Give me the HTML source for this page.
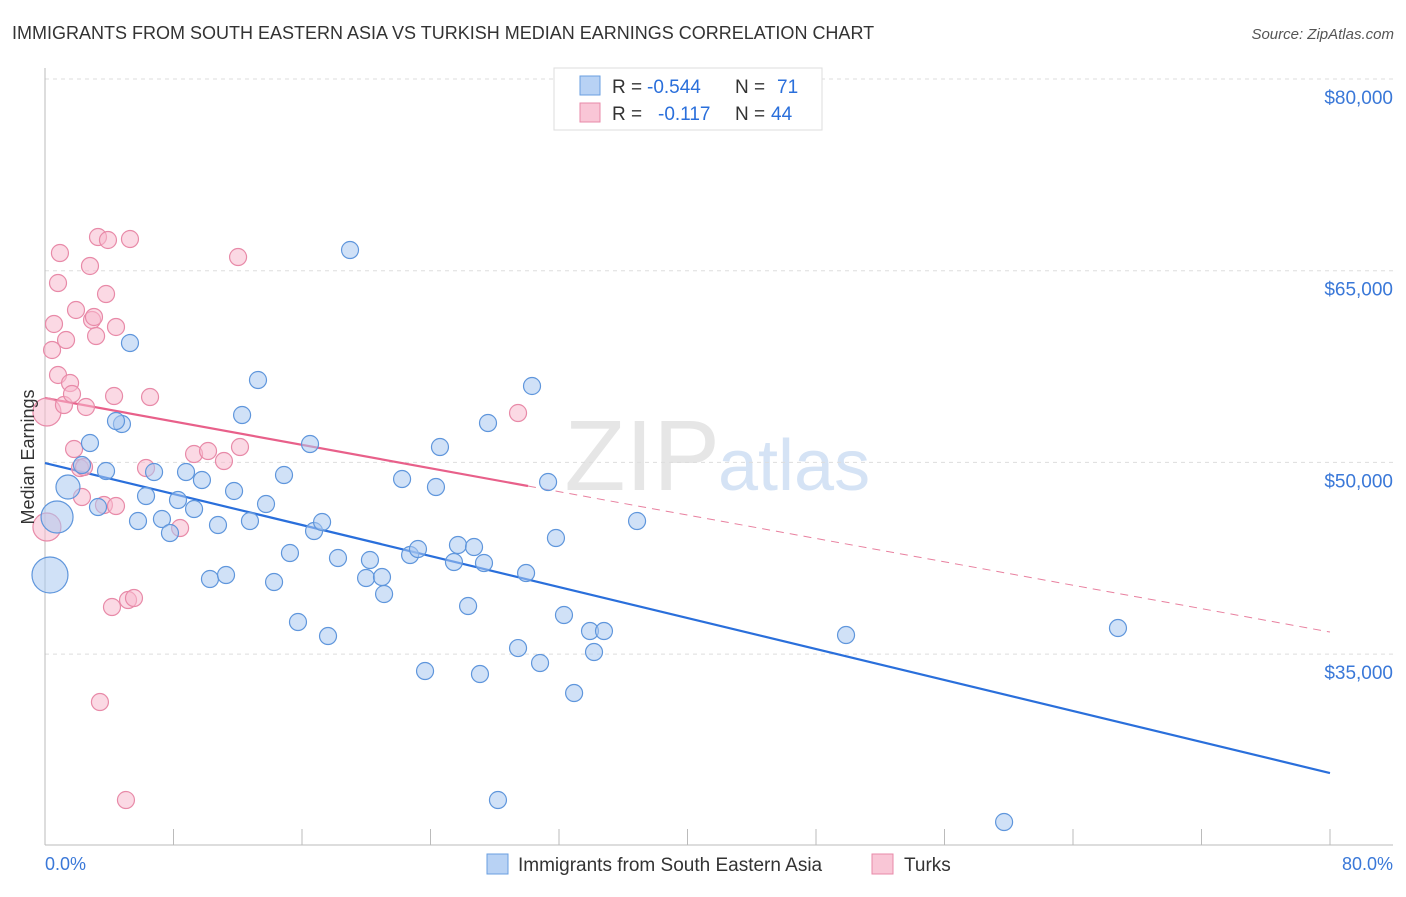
<!DOCTYPE html>
<html><head><meta charset="utf-8"><style>
body{margin:0;background:#fff;font-family:"Liberation Sans",sans-serif;}
svg text{font-family:"Liberation Sans",sans-serif;}
</style></head><body>
<svg id="chart" width="1406" height="892">
<text x="12" y="39" font-size="18" fill="#333">IMMIGRANTS FROM SOUTH EASTERN ASIA VS TURKISH MEDIAN EARNINGS CORRELATION CHART</text>
<text x="1394" y="39" font-size="15" fill="#555" font-style="italic" text-anchor="end">Source: ZipAtlas.com</text>
<text x="720" y="490" font-size="100" fill="#e6e6e6" text-anchor="end" font-family="Liberation Serif">ZIP</text>
<text x="718" y="490" font-size="72" fill="#d5e3f5">atlas</text>
<g id="grid"></g><g id="axes"></g><g id="lines"></g><g id="pts"></g>
<text transform="translate(34,457) rotate(-90)" font-size="18" fill="#333" text-anchor="middle">Median Earnings</text>
<text x="45" y="870" font-size="18" fill="#3a78d8">0.0%</text>
<text x="1393" y="870" font-size="18" fill="#3a78d8" text-anchor="end">80.0%</text>
<g>
<rect x="554" y="68" width="268" height="62" fill="#fff" stroke="#ddd"/>
<rect x="580" y="76" width="20" height="19" fill="#b8d2f4" stroke="#6a9fe0"/>
<rect x="580" y="103" width="20" height="19" fill="#f9c6d6" stroke="#e88aa8"/>
<text x="612" y="93" font-size="19" fill="#333">R =</text>
<text x="647" y="93" font-size="19" fill="#2a6fdb">-0.544</text>
<text x="735" y="93" font-size="19" fill="#333">N =</text>
<text x="777" y="93" font-size="19" fill="#2a6fdb">71</text>
<text x="612" y="120" font-size="19" fill="#333">R =</text>
<text x="658" y="120" font-size="19" fill="#2a6fdb">-0.117</text>
<text x="735" y="120" font-size="19" fill="#333">N =</text>
<text x="771" y="120" font-size="19" fill="#2a6fdb">44</text>
</g>
<g>
<rect x="487" y="854" width="21" height="20" fill="#b8d2f4" stroke="#6a9fe0"/>
<text x="518" y="871" font-size="19" fill="#333">Immigrants from South Eastern Asia</text>
<rect x="872" y="854" width="21" height="20" fill="#f9c6d6" stroke="#e88aa8"/>
<text x="904" y="871" font-size="19" fill="#333">Turks</text>
</g>
</svg>
<script>
const yTicks=[35000,50000,65000,80000];
const yTickLabels=["$35,000","$50,000","$65,000","$80,000"];
const xTicks=[0,8,16,24,32,40,48,56,64,72,80];
const blueX=[0.31,0.75,1.43,2.80,3.30,3.80,2.30,4.79,4.42,5.29,5.79,6.29,6.79,7.28,7.78,8.28,8.78,9.28,9.77,10.27,10.77,11.27,11.77,12.27,12.76,13.26,13.76,14.26,14.88,15.25,15.75,16.50,16.75,17.25,17.62,18.24,18.99,19.99,20.23,20.98,21.11,22.23,22.73,23.22,23.66,24.34,24.59,25.46,25.71,26.34,26.71,27.08,27.33,27.58,28.20,29.45,29.95,30.32,30.82,31.32,31.81,32.31,32.94,33.93,34.18,34.80,36.86,49.87,66.80,59.71];
const blueY=[41188,45727,48074,51517,46509,49326,49795,53004,53239,59342,45414,47370,49248,45570,44475,47057,49248,46353,48622,40875,45101,41188,47762,53708,45414,56447,46744,40640,49013,42910,37510,51439,44631,45336,36414,42519,66619,40953,42362,41031,39701,48700,42753,43222,33676,48074,51204,42206,43535,38763,43379,33441,42128,53082,23582,35474,41344,55978,34302,48466,44083,38058,31954,36805,35162,36805,45414,36492,37040,21861];
const blueR=[18,16,12];
const pinkX=[0.12,0.12,0.44,0.56,0.81,0.93,0.81,1.18,1.31,1.56,1.68,1.81,1.93,2.18,2.30,2.43,2.55,2.80,2.93,3.05,3.18,3.30,3.42,3.67,3.80,3.92,4.17,4.30,4.42,4.42,5.04,5.17,5.29,5.54,6.29,6.54,8.41,9.28,10.15,11.14,12.02,12.14,29.45];
const pinkY=[53943,44944,58795,60830,56839,66384,64037,54491,59577,56212,55351,51048,61925,49561,47292,49638,54335,65368,61143,61378,59890,67636,31250,46666,63176,67402,38684,55195,60595,46587,23582,39232,67480,39389,49561,55116,44866,50656,50891,50108,66071,51204,53865];
const pinkR=[14,14];
const blueLine=[[0,49952],[80,25695]];
const pinkLine=[[0,55038],[30.07,48152]];
const pinkDash=[[30.07,48152],[80,36728]];

const NS="http://www.w3.org/2000/svg";
const X0=45,X1=1330,Y80=79,PPV=191.7/15000;
const sx=v=>X0+(v/80)*(X1-X0);
const sy=v=>Y80+(80000-v)*PPV;
function mk(tag,attrs,parent){const e=document.createElementNS(NS,tag);for(const k in attrs)e.setAttribute(k,attrs[k]);document.getElementById(parent).appendChild(e);return e;}
yTicks.forEach((t,i)=>{
 const g=mk('line',{x1:X0,x2:1393,y1:sy(t),y2:sy(t),stroke:'#ddd','stroke-dasharray':'4,4'},'grid');
 
 
 const l=mk('text',{x:1393,y:sy(t)+25,'font-size':19,fill:'#3a78d8','text-anchor':'end'},'grid');
 l.textContent=yTickLabels[i];
 
 
});
const ax=mk('line',{x1:X0,x2:X0,y1:68,y2:845,stroke:'#bbb'},'axes');


const bx=mk('line',{x1:X0,x2:1393,y1:845,y2:845,stroke:'#bbb'},'axes');


xTicks.forEach(t=>{
 const k=mk('line',{x1:sx(t),x2:sx(t),y1:829,y2:845,stroke:'#bbb'},'axes');
 
 
});
function pts(xs,ys,rs,fill,stroke,name){
 xs.forEach((x,i)=>{
  const c=mk('circle',{cx:sx(x),cy:sy(ys[i]),r:rs[i]||8.5,fill:fill,stroke:stroke,'stroke-width':1.2,'fill-opacity':0.55},'pts');
  
  
 });
}
pts(pinkX,pinkY,pinkR,'#f7b9cd','#e88aa8','turks-point');
pts(blueX,blueY,blueR,'#a9c8f0','#5f96dc','sea-immigrants-point');
function ln(p,stroke,w,dash,name){
 const l=mk('line',{x1:sx(p[0][0]),y1:sy(p[0][1]),x2:sx(p[1][0]),y2:sy(p[1][1]),stroke:stroke,'stroke-width':w},'lines');
 if(dash)l.setAttribute('stroke-dasharray',dash);
 
 
}
ln(blueLine,'#2a6fdb',2.2,null,'sea-trend-line');
ln(pinkLine,'#e8608a',2.2,null,'turks-trend-line');
ln(pinkDash,'#e8809f',1,'8,6','turks-trend-extension');
</script>
</body></html>
